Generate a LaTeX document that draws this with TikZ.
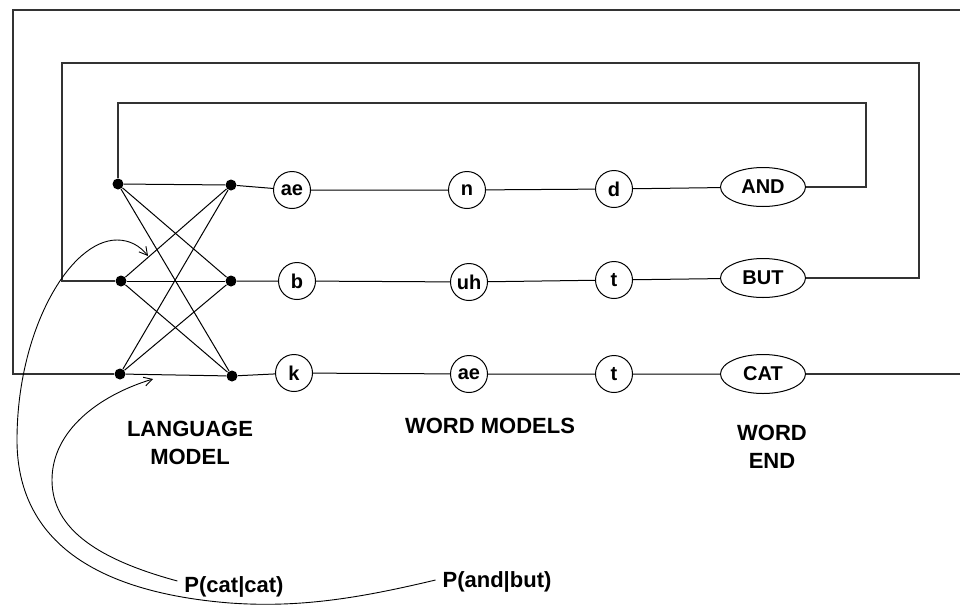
\documentclass[tikz,border=0pt]{standalone}
\usepackage{fontspec}
\setmainfont{Liberation Sans}
\usetikzlibrary{shapes.geometric, arrows.meta}

\begin{document}
\begin{tikzpicture}[
    x=0.5pt, y=-0.5pt,
    state/.style={circle, draw, line width=0.5pt, inner sep=0pt, minimum size=18.5pt, font=\fontsize{10}{12}\selectfont\bfseries},
    word/.style={ellipse, draw, line width=0.5pt, inner sep=0pt, minimum width=42.5pt, minimum height=19.5pt, font=\fontsize{10}{12}\selectfont\bfseries},
    junction/.style={circle, fill, inner sep=0pt, minimum size=5.5pt},
    caption/.style={align=center, font=\fontsize{11}{14}\selectfont\bfseries},
    link/.style={line width=0.5pt},
    loop/.style={line width=0.6pt, black!80},
    arrow/.style={line width=0.45pt, ->, >={Straight Barb[length=4pt, width=4.5pt]}}
]
    \useasboundingbox (0,0) rectangle (960,606);

    % Language model junctions
    \node [junction] (l1) at (118,184) {};
    \node [junction] (l2) at (121,281) {};
    \node [junction] (l3) at (120,374) {};
    \node [junction] (r1) at (231,185) {};
    \node [junction] (r2) at (231,281) {};
    \node [junction] (r3) at (232,376) {};

    % Word models
    \node [state] (ae1) at (292,190) {ae};
    \node [state] (n) at (467,190) {n};
    \node [state] (d) at (614,189) {d};
    \node [word] (and) at (763,187) {AND};

    \node [state] (b) at (297,281) {b};
    \node [state] (uh) at (469,282) {uh};
    \node [state] (t1) at (614,280) {t};
    \node [word] (but) at (763,278) {BUT};

    \node [state] (k) at (294,373) {k};
    \node [state] (ae2) at (469,374) {ae};
    \node [state] (t2) at (614,374) {t};
    \node [word] (cat) at (763,374) {CAT};

    % Captions
    \node [caption] (lm) at (190,443) {LANGUAGE\\MODEL};
    \node [caption] (wm) at (490,426) {WORD MODELS};
    \node [caption] (we) at (772,447) {WORD\\END};
    \node [caption] (pcc) at (234,587) {P(cat|cat)};
    \node [caption] (pab) at (497,582) {P(and|but)};

    % Bigram connections
    \foreach \i in {1,2,3}
        \foreach \j in {1,2,3}
            \draw [link] (l\i) -- (r\j);

    % Phone chains
    \draw [link] (r1) -- (ae1) -- (n) -- (d) -- (and);
    \draw [link] (r2) -- (b) -- (uh) -- (t1) -- (but);
    \draw [link] (r3) -- (k) -- (ae2) -- (t2) -- (cat);

    % Word end loops back to the language model
    \coordinate (exit) at (960,374);
    \coordinate (entry) at (960,10);
    \draw [loop] (and.east) -- ++(60,0) -- ++(0,-84) -| (l1);
    \draw [loop] (but.east) -- ++(113,0) -- ++(0,-215) -- ++(-857,0) |- (l2);
    \draw [loop] (cat.east) -- (exit);
    \draw [loop] (entry) -- (13,10) |- (l3);

    % Transition probabilities
    \coordinate (catloop) at (153,379);
    \coordinate (andloop) at (148,256);
    \draw [arrow] ([yshift=3pt]pcc.west) .. controls (100,560) and (52,530) .. (52,480)
        .. controls (52,430) and (100,395) .. (catloop);
    \draw [arrow] ([yshift=1pt]pab.west) .. controls (360,598) and (300,608) .. (230,603)
        .. controls (80,591) and (17,530) .. (17,440)
        .. controls (17,330) and (70,240) .. (117,240)
        .. controls (130,240) and (140,246) .. (andloop);
\end{tikzpicture}
\end{document}
